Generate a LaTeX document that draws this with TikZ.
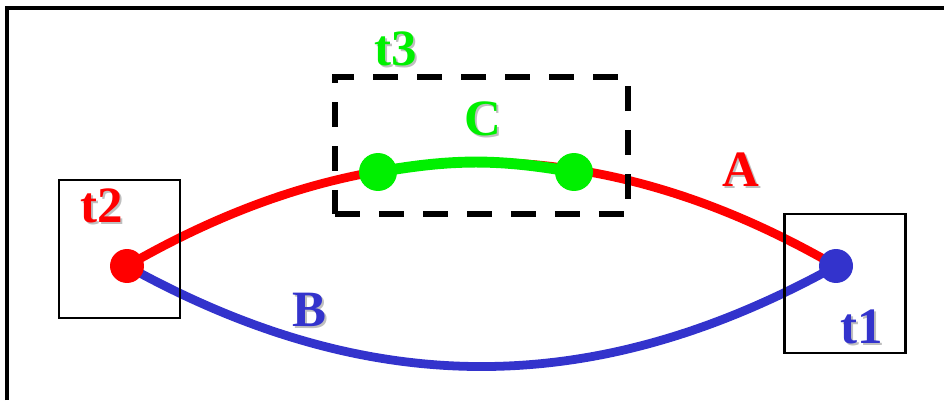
\documentclass[tikz,border=0pt]{standalone}
\usepackage{fontspec}
\setmainfont{Liberation Serif}
\usetikzlibrary{backgrounds}

\definecolor{cred}{RGB}{255,0,0}
\definecolor{cgreen}{RGB}{0,240,0}
\definecolor{cblue}{RGB}{51,51,204}
% coloured letter with a light grey drop shadow
\newcommand{\shtext}[2]{\makebox[0pt][l]{\hspace{1.2pt}\raisebox{-1.2pt}{\textcolor{black!25}{#2}}}\textcolor{#1}{#2}}

\begin{document}
\begin{tikzpicture}[x=0.02cm, y=0.02cm,
    lbl/.style={font=\fontsize{29}{29}\selectfont\bfseries, inner sep=0pt},
    dot/.style={circle, inner sep=0pt, minimum size=0.68cm},
    gdot/.style={circle, inner sep=0pt, minimum size=0.76cm, fill=cgreen},
    tbox/.style={draw, line width=1.3pt, minimum width=2.42cm, minimum height=2.77cm},
    wire/.style={line width=5pt}]
  \useasboundingbox (0,0) rectangle (944,400);
  \draw[line width=2pt] (7,0) -- (7,392) -- (944,392);

  \node[tbox] (box2) at (119.5,151) {};
  \node[tbox] (box1) at (845,116.5) {};
  \node[draw, line width=3.3pt, dash pattern=on 0.5cm off 0.38cm,
        minimum width=5.86cm, minimum height=2.74cm] (t3box) at (481.5,254.5) {};

  \node[dot, fill=cred] (t2dot) at (127,134) {};
  \node[dot, fill=cblue] (t1dot) at (836,134) {};
  \node[gdot] (c1) at (378,228) {};
  \node[gdot] (c2) at (574,228) {};

  \begin{scope}[on background layer]
    \draw[wire, cblue] (t2dot.center) to[bend right=29] (t1dot.center);
    \draw[wire, cred] (t2dot.center) to[bend left=30] (t1dot.center);
    \draw[line width=6.2pt, cgreen] (c1.center) to[bend left=10] (c2.center);
  \end{scope}

  \node[lbl] (t3) at (396,350) {\shtext{cgreen}{t3}};
  \node[lbl] (lc) at (483,280) {\shtext{cgreen}{C}};
  \node[lbl] (la) at (741,229) {\shtext{cred}{A}};
  \node[lbl] (t2) at (102,193) {\shtext{cred}{t2}};
  \node[lbl] (lb) at (309,89) {\shtext{cblue}{B}};
  \node[lbl] (t1) at (862,72) {\shtext{cblue}{t1}};
\end{tikzpicture}
\end{document}
